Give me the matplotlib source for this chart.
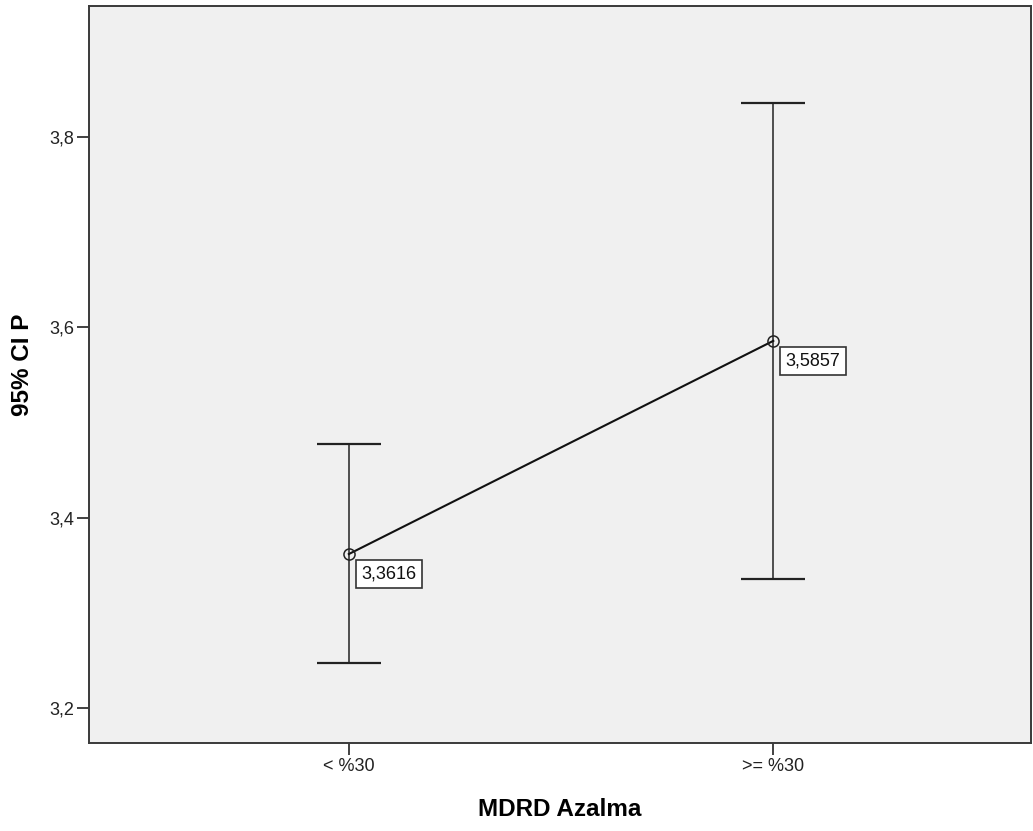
import matplotlib
matplotlib.use("Agg")
import matplotlib.pyplot as plt

plt.rcParams["font.family"] = ["Liberation Sans", "DejaVu Sans"]

# Means and 95% CI bounds per MDRD reduction group
groups = ["< %30", ">= %30"]
means = [3.3616, 3.5857]
ci_lower = [3.2466, 3.3352]
ci_upper = [3.4770, 3.8354]
mean_labels = ["3,3616", "3,5857"]
y_ticks = [3.2, 3.4, 3.6, 3.8]
y_tick_labels = ["3,2", "3,4", "3,6", "3,8"]

fig = plt.figure(figsize=(10.33, 8.31), dpi=100)
ax = fig.add_axes([0.0862, 0.1059, 0.9118, 0.8869])
ax.set_facecolor("#f0f0f0")

x = list(range(len(groups)))
err_low = [m - lo for m, lo in zip(means, ci_lower)]
err_high = [hi - m for m, hi in zip(means, ci_upper)]

ax.errorbar(x, means, yerr=[err_low, err_high], fmt="none",
            ecolor="#222222", elinewidth=1.1, capsize=23, capthick=1.6)
ax.plot(x, means, color="#111111", linewidth=1.5, marker="o",
        markersize=8, markerfacecolor="none", markeredgecolor="#222222",
        markeredgewidth=1.1, zorder=3)

for xi, m, lab in zip(x, means, mean_labels):
    ax.annotate(lab, xy=(xi, m), xytext=(9, -8.5), textcoords="offset points",
                ha="left", va="top", fontsize=13, color="#111111",
                bbox=dict(boxstyle="square,pad=0.3", facecolor="white",
                          edgecolor="#333333", linewidth=1.2))

ax.set_xlim(-0.612, 1.607)
ax.set_ylim(3.163, 3.9377)
ax.set_xticks(x)
ax.set_xticklabels(groups)
ax.set_yticks(y_ticks)
ax.set_yticklabels(y_tick_labels)
ax.tick_params(axis="both", direction="out", length=8.5, width=1.3,
               color="#333333", labelsize=13, labelcolor="#222222", pad=2)

for spine in ax.spines.values():
    spine.set_color("#3a3a3a")
    spine.set_linewidth(1.4)

ax.set_xlabel("MDRD Azalma", fontsize=17.5, fontweight="bold", labelpad=17)
ax.set_ylabel("95% CI P", fontsize=17.5, fontweight="bold", labelpad=11)
ax.yaxis.label.set_y(0.513)

fig.savefig("out.png", dpi=100)
